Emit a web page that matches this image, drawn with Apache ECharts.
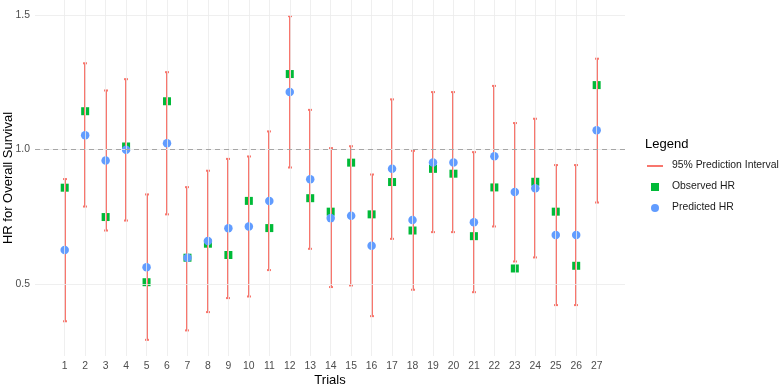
<!DOCTYPE html>
<html>
<head>
<meta charset="utf-8">
<script src="https://cdn.jsdelivr.net/npm/echarts@6/dist/echarts.min.js"></script>
<style>html,body{margin:0;padding:0;background:#fff;}#c{width:779px;height:384px;}</style>
</head>
<body>
<div id="c"></div>
<script>
const trials = [1,2,3,4,5,6,7,8,9,10,11,12,13,14,15,16,17,18,19,20,21,22,23,24,25,26,27];
const observedHR = [0.858,1.142,0.749,1.011,0.507,1.179,0.598,0.650,0.608,0.809,0.708,1.280,0.819,0.769,0.951,0.759,0.879,0.699,0.928,0.910,0.678,0.859,0.558,0.880,0.769,0.568,1.239];
const predictedHR = [0.627,1.053,0.959,0.999,0.563,1.023,0.598,0.660,0.707,0.714,0.809,1.213,0.889,0.745,0.754,0.642,0.928,0.738,0.952,0.952,0.730,0.975,0.842,0.856,0.682,0.682,1.071];
const lowerPI = [0.362,0.788,0.699,0.736,0.293,0.759,0.328,0.396,0.448,0.454,0.552,0.933,0.631,0.489,0.495,0.381,0.668,0.479,0.693,0.693,0.470,0.714,0.584,0.599,0.422,0.422,0.803];
const upperPI = [0.890,1.320,1.219,1.261,0.833,1.287,0.860,0.921,0.965,0.974,1.067,1.495,1.147,1.005,1.012,0.907,1.186,0.995,1.213,1.213,0.990,1.236,1.098,1.114,0.942,0.942,1.337];
const yTicks = [0.5, 1.0, 1.5];
const refLine = 1.0;

const chart = echarts.init(document.getElementById('c'), null, {renderer: 'canvas'});
const FONT = 'Liberation Sans, Arial, sans-serif';
const RED = '#F8766D', GREEN = '#00BA38', BLUE = '#619CFF';

const option = {
  animation: false,
  backgroundColor: '#ffffff',
  grid: {left: 35, right: 154, top: 0, bottom: 28, containLabel: false, outerBoundsMode: 'none'},
  xAxis: {
    type: 'value', min: -0.452, max: 28.385,
    name: 'Trials', nameLocation: 'middle', nameGap: 17.5, nameMoveOverlap: false,
    nameTextStyle: {fontFamily: FONT, fontSize: 13, color: '#000'},
    axisLine: {show: false}, axisTick: {show: false}, splitLine: {show: false},
    axisLabel: {customValues: trials, margin: 5, fontFamily: FONT, fontSize: 10.4, color: '#4D4D4D'}
  },
  yAxis: {
    type: 'value', min: 0.233, max: 1.555,
    name: 'HR for Overall Survival', nameLocation: 'middle', nameGap: 20, nameRotate: 90, nameMoveOverlap: false,
    nameTextStyle: {fontFamily: FONT, fontSize: 13, color: '#000'},
    axisLine: {show: false}, axisTick: {show: false}, splitLine: {show: false},
    axisLabel: {customValues: yTicks, margin: 5, fontFamily: FONT, fontSize: 10.4, color: '#4D4D4D',
      formatter: v => Number(v).toFixed(1)}
  },
  series: [
    {
      name: 'grid', type: 'line', data: [], silent: true, z: 0,
      markLine: {
        silent: true, symbol: 'none', label: {show: false}, animation: false,
        lineStyle: {color: '#EBEBEB', width: 0.8, type: 'solid'},
        data: trials.map(t => ({xAxis: t})).concat(yTicks.map(v => ({yAxis: v}))).concat([
          {yAxis: refLine, lineStyle: {color: '#A6A6A6', width: 1, type: [5, 4]}}
        ])
      }
    },
    {
      name: 'Observed HR', type: 'scatter', symbol: 'rect', symbolSize: 8, z: 2,
      itemStyle: {color: GREEN, opacity: 1},
      data: trials.map((t, i) => [t, observedHR[i]])
    },
    {
      name: '95% Prediction Interval', type: 'custom', z: 3,
      data: trials.map((t, i) => [t, lowerPI[i], upperPI[i]]),
      encode: {x: 0, y: [1, 2]},
      renderItem: function (params, api) {
        const x = api.value(0), lo = api.value(1), hi = api.value(2);
        const pL = api.coord([x, lo]), pH = api.coord([x, hi]);
        const cx = Math.round(pL[0]);
        const hw = 2;
        const st = {stroke: RED, lineWidth: 2, fill: null, opacity: 1};
        return {type: 'group', children: [
          {type: 'line', shape: {x1: cx, y1: pL[1], x2: cx, y2: pH[1]}, style: st},
          {type: 'line', shape: {x1: cx - hw, y1: pL[1], x2: cx + hw, y2: pL[1]}, style: st},
          {type: 'line', shape: {x1: cx - hw, y1: pH[1], x2: cx + hw, y2: pH[1]}, style: st}
        ]};
      }
    },
    {
      name: 'Predicted HR', type: 'scatter', symbol: 'circle', symbolSize: 8.5, z: 4,
      itemStyle: {color: BLUE, opacity: 1},
      data: trials.map((t, i) => [t, predictedHR[i]])
    }
  ],
  graphic: [
    {type: 'text', left: 645, top: 138, style: {text: 'Legend', font: '13px ' + FONT, fill: '#000'}},
    {type: 'line', shape: {x1: 647, y1: 166, x2: 663, y2: 166}, style: {stroke: RED, lineWidth: 2}},
    {type: 'text', left: 672, top: 160, style: {text: '95% Prediction Interval', font: '10.4px ' + FONT, fill: '#1A1A1A'}},
    {type: 'rect', shape: {x: 651, y: 183, width: 8, height: 8}, style: {fill: GREEN}},
    {type: 'text', left: 672, top: 181, style: {text: 'Observed HR', font: '10.4px ' + FONT, fill: '#1A1A1A'}},
    {type: 'circle', shape: {cx: 655, cy: 208, r: 4}, style: {fill: BLUE}},
    {type: 'text', left: 672, top: 202, style: {text: 'Predicted HR', font: '10.4px ' + FONT, fill: '#1A1A1A'}}
  ]
};
chart.setOption(option);
</script>
</body>
</html>
